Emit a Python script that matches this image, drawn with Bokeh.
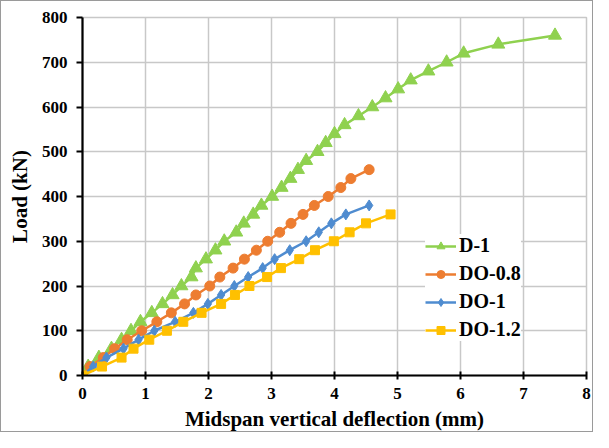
from bokeh.plotting import figure
from bokeh.embed import file_html
from bokeh.resources import INLINE
from bokeh.models import Range1d, Legend, LegendItem, FixedTicker

load_d1 = [0, 20, 40, 60, 80, 100, 120, 140, 160, 180, 200, 220, 240, 260, 280, 300, 320, 340, 360,
           380, 400, 420, 440, 460, 480, 500, 520, 540, 560, 580, 600, 620, 640, 660, 680, 700, 720, 740, 760]
defl_d1 = [0, 0.09, 0.26, 0.46, 0.62, 0.77, 0.92, 1.10, 1.27, 1.43, 1.57, 1.73, 1.80, 1.96, 2.11, 2.25,
           2.44, 2.56, 2.71, 2.84, 3.01, 3.16, 3.30, 3.42, 3.55, 3.73, 3.86, 4.00, 4.16, 4.38, 4.60, 4.81,
           5.01, 5.21, 5.49, 5.78, 6.05, 6.60, 7.50]

load_do08 = [0, 20, 40, 60, 80, 100, 120, 140, 160, 180, 200, 220, 240, 260, 280, 300, 320, 340, 360,
             380, 400, 420, 440, 460]
defl_do08 = [0, 0.12, 0.33, 0.51, 0.71, 0.94, 1.18, 1.41, 1.62, 1.80, 2.02, 2.18, 2.39, 2.57, 2.76, 2.94,
             3.13, 3.31, 3.50, 3.68, 3.90, 4.10, 4.26, 4.55]

load_do1 = [0, 20, 40, 60, 80, 100, 120, 140, 160, 180, 200, 220, 240, 260, 280, 300, 320, 340, 360, 380]
defl_do1 = [0, 0.17, 0.38, 0.65, 0.89, 1.14, 1.47, 1.76, 1.99, 2.20, 2.41, 2.63, 2.86, 3.05, 3.29, 3.55,
            3.75, 3.95, 4.18, 4.55]

load_do12 = [0, 20, 40, 60, 80, 100, 120, 140, 160, 180, 200, 220, 240, 260, 280, 300, 320, 340, 360]
defl_do12 = [0, 0.31, 0.62, 0.81, 1.06, 1.34, 1.60, 1.89, 2.20, 2.42, 2.65, 2.93, 3.15, 3.44, 3.69, 3.99,
             4.24, 4.50, 4.89]

x_ticks = [0, 1, 2, 3, 4, 5, 6, 7, 8]
y_ticks = [0, 100, 200, 300, 400, 500, 600, 700, 800]

FONT = "Liberation Serif"

p = figure(width=593, height=432, output_backend="svg", toolbar_location=None,
           x_range=Range1d(0, 8), y_range=Range1d(0, 800),
           min_border_left=81, min_border_right=8, min_border_top=16, min_border_bottom=57)
p.styles = {"border": "1px solid #9a9a9a", "box-sizing": "border-box"}

p.outline_line_color = "#c8c8c8"
p.outline_line_width = 1.5

for ax in (p.xaxis[0], p.yaxis[0]):
    ax.axis_line_color = "black"
    ax.axis_line_width = 2.2
    ax.major_tick_line_color = "black"
    ax.major_tick_line_width = 2
    ax.minor_tick_line_color = None
    ax.major_label_text_font = FONT
    ax.major_label_text_font_style = "bold"
    ax.major_label_text_font_size = "17px"
    ax.major_label_text_color = "black"
    ax.axis_label_text_font = FONT
    ax.axis_label_text_font_style = "bold"
    ax.axis_label_text_font_size = "21px"
    ax.axis_label_text_color = "black"

p.xaxis.ticker = FixedTicker(ticks=x_ticks)
p.yaxis.ticker = FixedTicker(ticks=y_ticks)
p.xaxis.major_tick_in = 4
p.xaxis.major_tick_out = 4
p.yaxis.major_tick_in = 0
p.yaxis.major_tick_out = 6
p.xaxis.major_label_standoff = 8
p.yaxis.major_label_standoff = 9
p.xaxis.axis_label = "Midspan vertical deflection (mm)"
p.yaxis.axis_label = "Load (kN)"
p.xaxis.axis_label_standoff = 5
p.yaxis.axis_label_standoff = 7

p.xgrid.grid_line_color = "#c8c8c8"
p.ygrid.grid_line_color = "#c8c8c8"
p.xgrid.grid_line_width = 1.5
p.ygrid.grid_line_width = 1.5

GREEN = "#8FD14F"
ORANGE = "#ED7D31"
BLUE = "#4F8CD0"
YELLOW = "#FFC000"

items = []
l = p.line(defl_d1, load_d1, line_color=GREEN, line_width=2.5)
s = p.scatter(defl_d1, load_d1, marker="triangle", size=13, fill_color=GREEN, line_color=GREEN)
items.append(LegendItem(label="D-1", renderers=[l, s]))

l = p.line(defl_do08, load_do08, line_color=ORANGE, line_width=2.5)
s = p.scatter(defl_do08, load_do08, marker="circle", size=10, fill_color=ORANGE, line_color=ORANGE)
items.append(LegendItem(label="DO-0.8", renderers=[l, s]))

l = p.line(defl_do1, load_do1, line_color=BLUE, line_width=2.5)
s = p.scatter(defl_do1, load_do1, marker="diamond", size=11, fill_color=BLUE, line_color=BLUE)
items.append(LegendItem(label="DO-1", renderers=[l, s]))

l = p.line(defl_do12, load_do12, line_color=YELLOW, line_width=2.5)
s = p.scatter(defl_do12, load_do12, marker="square", size=9, fill_color=YELLOW, line_color=YELLOW)
items.append(LegendItem(label="DO-1.2", renderers=[l, s]))

legend = Legend(items=items, location=(343, 34), border_line_color=None,
                background_fill_color="white", background_fill_alpha=1.0,
                label_text_font=FONT, label_text_font_style="bold", label_text_font_size="20px",
                label_text_color="black", glyph_width=31, glyph_height=20, spacing=5,
                padding=4, label_standoff=3)
p.add_layout(legend, "center")

open("out.html", "w").write(file_html(p, INLINE))
